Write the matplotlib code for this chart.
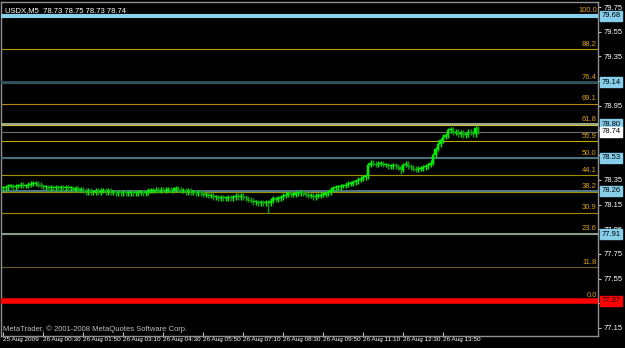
import matplotlib
matplotlib.use("Agg")
import matplotlib.pyplot as plt
import matplotlib.transforms as mtransforms

plt.rcParams["font.family"] = ["Liberation Sans", "DejaVu Sans"]

# 5 minute closes of USDX, 25 Aug 2009 23:10 onwards
closes = [
    78.28, 78.29, 78.30, 78.30, 78.29, 78.30, 78.30, 78.31, 78.30, 78.30,
    78.31, 78.32, 78.32, 78.32, 78.31, 78.30, 78.29, 78.29, 78.28, 78.29,
    78.28, 78.29, 78.28, 78.29, 78.28, 78.29, 78.28, 78.28, 78.27, 78.28,
    78.27, 78.27, 78.26, 78.25, 78.26, 78.25, 78.25, 78.26, 78.25, 78.26,
    78.26, 78.25, 78.26, 78.25, 78.25, 78.24, 78.25, 78.24, 78.25, 78.24,
    78.24, 78.25, 78.24, 78.24, 78.25, 78.25, 78.24, 78.25, 78.26, 78.26,
    78.26, 78.27, 78.26, 78.27, 78.26, 78.27, 78.27, 78.26, 78.27, 78.28,
    78.27, 78.26, 78.26, 78.25, 78.26, 78.25, 78.25, 78.24, 78.25, 78.24,
    78.23, 78.23, 78.22, 78.22, 78.21, 78.21, 78.20, 78.21, 78.20, 78.20,
    78.21, 78.20, 78.21, 78.22, 78.21, 78.22, 78.21, 78.20, 78.19, 78.18,
    78.17, 78.17, 78.16, 78.17, 78.16, 78.17, 78.16, 78.18, 78.20, 78.19,
    78.20, 78.21, 78.22, 78.23, 78.24, 78.23, 78.23, 78.24, 78.24, 78.25,
    78.24, 78.23, 78.22, 78.22, 78.21, 78.22, 78.22, 78.23, 78.23, 78.24,
    78.25, 78.27, 78.28, 78.29, 78.29, 78.30, 78.30, 78.31, 78.32, 78.32,
    78.33, 78.34, 78.35, 78.36, 78.37, 78.38, 78.47, 78.49, 78.48, 78.47,
    78.48, 78.48, 78.47, 78.47, 78.46, 78.46, 78.47, 78.46, 78.45, 78.43,
    78.47, 78.48, 78.46, 78.45, 78.44, 78.43, 78.44, 78.44, 78.45, 78.46,
    78.47, 78.49, 78.55, 78.60, 78.64, 78.67, 78.70, 78.71, 78.75, 78.76,
    78.73, 78.74, 78.72, 78.73, 78.71, 78.72, 78.74, 78.73, 78.72, 78.77,
    78.74,
]
first_open = 78.28
# long wicks that stand out
spike_lows = {106: 78.08, 159: 78.40}
spike_highs = {179: 78.78, 189: 78.79}

# fibonacci retracement
fib_low = 77.37
fib_high = 79.68
fib_levels = [100.0, 88.2, 76.4, 69.1, 61.8, 55.9, 50.0, 44.1, 38.2, 30.9, 23.6, 11.8, 0.0]
fib_colors = ["#c8a000", "#b8a000", "#8a7a00", "#b8860b", "#d0c040", "#c0a800",
              "#a09000", "#a09000", "#a09000", "#a08800", "#8a8a50", "#6b5a2a", "#c8a000"]

# horizontal lines with price tags
hline_prices = [79.68, 79.14, 78.80, 78.53, 78.26, 77.91]
hline_colors = ["#87ceeb", "#2f5060", "#b8c8a0", "#4a7080", "#5f8fa0", "#8a9a8a"]
hline_widths = [3.0, 2.0, 1.2, 1.5, 1.2, 1.5]
support = 77.37
bid = 78.74

ytick_vals = [79.75, 79.55, 79.35, 79.15, 78.95, 78.75, 78.55, 78.35, 78.15,
              77.95, 77.75, 77.55, 77.35, 77.15]
xtick_bars = [0, 16, 32, 48, 64, 80, 96, 112, 128, 144, 160, 176]
xtick_labels = ["25 Aug 2009", "26 Aug 00:30", "26 Aug 01:50", "26 Aug 03:10",
                "26 Aug 04:30", "26 Aug 05:50", "26 Aug 07:10", "26 Aug 08:30",
                "26 Aug 09:50", "26 Aug 11:10", "26 Aug 12:30", "26 Aug 13:50"]

fig = plt.figure(figsize=(6.25, 3.48), dpi=100, facecolor="black")
ax = fig.add_axes([0.0016, 0.0345, 0.9552, 0.9595])
ax.set_facecolor("black")

opens = [first_open] + closes[:-1]
for i, (o, c) in enumerate(zip(opens, closes)):
    hi = spike_highs.get(i, max(o, c) + 0.02)
    lo = spike_lows.get(i, min(o, c) - 0.02)
    col = "#00f000" if c >= o else "#10a010"
    ax.vlines(i, lo, hi, color=col, lw=1.0, zorder=4)
    ax.bar(i, max(abs(c - o), 0.008), bottom=min(o, c), width=1.0,
           color=col, edgecolor=col, lw=0.3, zorder=5)

trans = mtransforms.blended_transform_factory(ax.transAxes, ax.transData)

for lev, col in zip(fib_levels, fib_colors):
    p = fib_low + (fib_high - fib_low) * lev / 100
    ax.axhline(p, color=col, lw=0.8, zorder=2)
    ax.text(0.998, p + 0.012, f"{lev:.1f}", transform=trans, fontsize=5.5,
            color="#e0a000", ha="right", va="bottom", zorder=6)


def tag(p, fc):
    ax.text(1.006, p, f"{p:.2f}", transform=trans, fontsize=5.5, color="black",
            va="center", ha="left", zorder=10, clip_on=False,
            bbox=dict(boxstyle="square,pad=0.2", fc=fc, ec=fc))


for p, col, lw in zip(hline_prices, hline_colors, hline_widths):
    ax.axhline(p, color=col, lw=lw, zorder=3)
    tag(p, "#87ceeb")

ax.axhline(support, color="red", lw=4, zorder=3)
tag(support, "red")

ax.axhline(bid, color="#707070", lw=0.8, zorder=3)
tag(bid, "white")

ax.set_xlim(-0.8, 238)
ax.set_ylim(77.085, 79.79)

ax.yaxis.tick_right()
ax.set_yticks(ytick_vals)
ax.set_yticklabels([f"{v:.2f}" for v in ytick_vals])
ax.set_xticks(xtick_bars)
ax.set_xticklabels(xtick_labels, ha="left")
ax.tick_params(axis="y", colors="#c0c0c0", labelsize=5.5, length=2, pad=2, labelcolor="white")
ax.tick_params(axis="x", colors="#c0c0c0", labelsize=4.6, length=3, pad=1,
               labelcolor="white", direction="in")
for s in ax.spines.values():
    s.set_color("#909090")
    s.set_linewidth(1)

ax.text(0.007, 0.985, "USDX,M5  78.73 78.75 78.73 78.74", transform=ax.transAxes,
        fontsize=5.5, color="white", va="top", ha="left")
ax.text(0.004, 0.008, "MetaTrader, \u00a9 2001-2008 MetaQuotes Software Corp.",
        transform=ax.transAxes, fontsize=5.5, color="#c0c0c0", va="bottom", ha="left")

fig.savefig("out.png", dpi=100, facecolor="black")
